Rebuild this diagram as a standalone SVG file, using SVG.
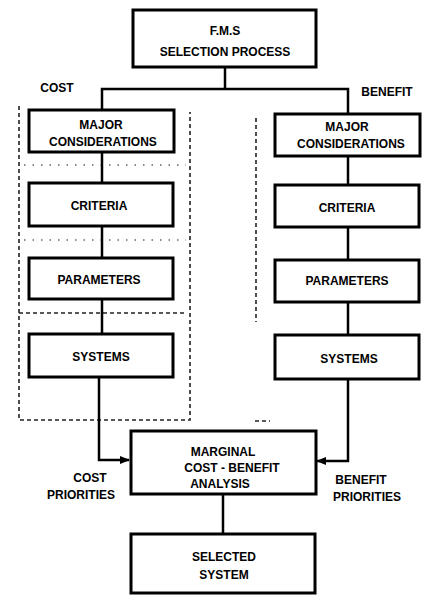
<svg xmlns="http://www.w3.org/2000/svg" width="422" height="596" viewBox="0 0 422 596">
<defs>
<style>
.box{fill:#fff;stroke:#000;stroke-width:3}
.ln{fill:none;stroke:#000;stroke-width:2.5}
.dash{fill:none;stroke:#222;stroke-width:1.6;stroke-dasharray:4 3}
.dot{fill:none;stroke:#666;stroke-width:1.4;stroke-dasharray:1.5 7}
text{font-family:"Liberation Sans",Arial,sans-serif;font-weight:bold;font-size:12px;fill:#000;text-anchor:middle}
</style>
<marker id="ah" viewBox="0 0 10 10" refX="9" refY="5" markerWidth="4" markerHeight="4" orient="auto"><path d="M0,1 L10,5 L0,9 Z" fill="#000"/></marker>
</defs>
<rect width="422" height="596" fill="#fff"/>
<g id="boundaries">
<path class="dash" d="M19,106 V420 H190 V112"/>
<path class="dot" d="M24,165 H186 M24,240 H186"/>
<path class="dash" d="M19,313 H186" stroke-dasharray="2 4"/>
<path class="dash" d="M256,118 V322" stroke-dasharray="3 5"/>
<path class="dash" d="M255,421 H270"/>
</g>
<g id="connectors">
<path class="ln" d="M225,67 V89 M102,110 V89 H348 V114"/>
<path class="ln" d="M102,152 V183 M102,226 V258 M102,299 V334"/>
<path class="ln" d="M348,156 V185 M348,227 V260 M348,302 V335"/>
<path class="ln" d="M99,377 V460 H129" marker-end="url(#ah)"/>
<path class="ln" d="M348,379 V461 H317" marker-end="url(#ah)"/>
<path class="ln" d="M223,494 V534"/>
</g>
<g id="fms">
<rect class="box" x="133" y="10" width="183" height="57"/>
<text x="225" y="35">F.M.S</text>
<text x="225" y="56">SELECTION  PROCESS</text>
</g>
<text x="57" y="92">COST</text>
<text x="387" y="96">BENEFIT</text>
<g id="cost-major">
<rect class="box" x="29" y="110" width="145" height="42"/>
<text x="101" y="129">MAJOR</text>
<text x="103" y="146">CONSIDERATIONS</text>
</g>
<g id="cost-criteria">
<rect class="box" x="29" y="183" width="144" height="43"/>
<text x="99" y="210">CRITERIA</text>
</g>
<g id="cost-parameters">
<rect class="box" x="29" y="258" width="144" height="41"/>
<text x="99" y="284">PARAMETERS</text>
</g>
<g id="cost-systems">
<rect class="box" x="29" y="334" width="144" height="43"/>
<text x="101" y="361">SYSTEMS</text>
</g>
<g id="benefit-major">
<rect class="box" x="275" y="114" width="145" height="42"/>
<text x="347" y="131">MAJOR</text>
<text x="351" y="148">CONSIDERATIONS</text>
</g>
<g id="benefit-criteria">
<rect class="box" x="275" y="185" width="144" height="42"/>
<text x="347" y="212">CRITERIA</text>
</g>
<g id="benefit-parameters">
<rect class="box" x="275" y="260" width="144" height="42"/>
<text x="347" y="285">PARAMETERS</text>
</g>
<g id="benefit-systems">
<rect class="box" x="275" y="335" width="144" height="44"/>
<text x="349" y="363">SYSTEMS</text>
</g>
<g id="marginal">
<rect class="box" x="131" y="431" width="185" height="63"/>
<text x="223" y="456">MARGINAL</text>
<text x="232" y="472">COST - BENEFIT</text>
<text x="220" y="488">ANALYSIS</text>
</g>
<text x="90" y="482">COST</text>
<text x="81" y="499">PRIORITIES</text>
<text x="361" y="484">BENEFIT</text>
<text x="367" y="501">PRIORITIES</text>
<g id="selected">
<rect class="box" x="131" y="534" width="184" height="59"/>
<text x="224" y="561">SELECTED</text>
<text x="224" y="579">SYSTEM</text>
</g>
</svg>
